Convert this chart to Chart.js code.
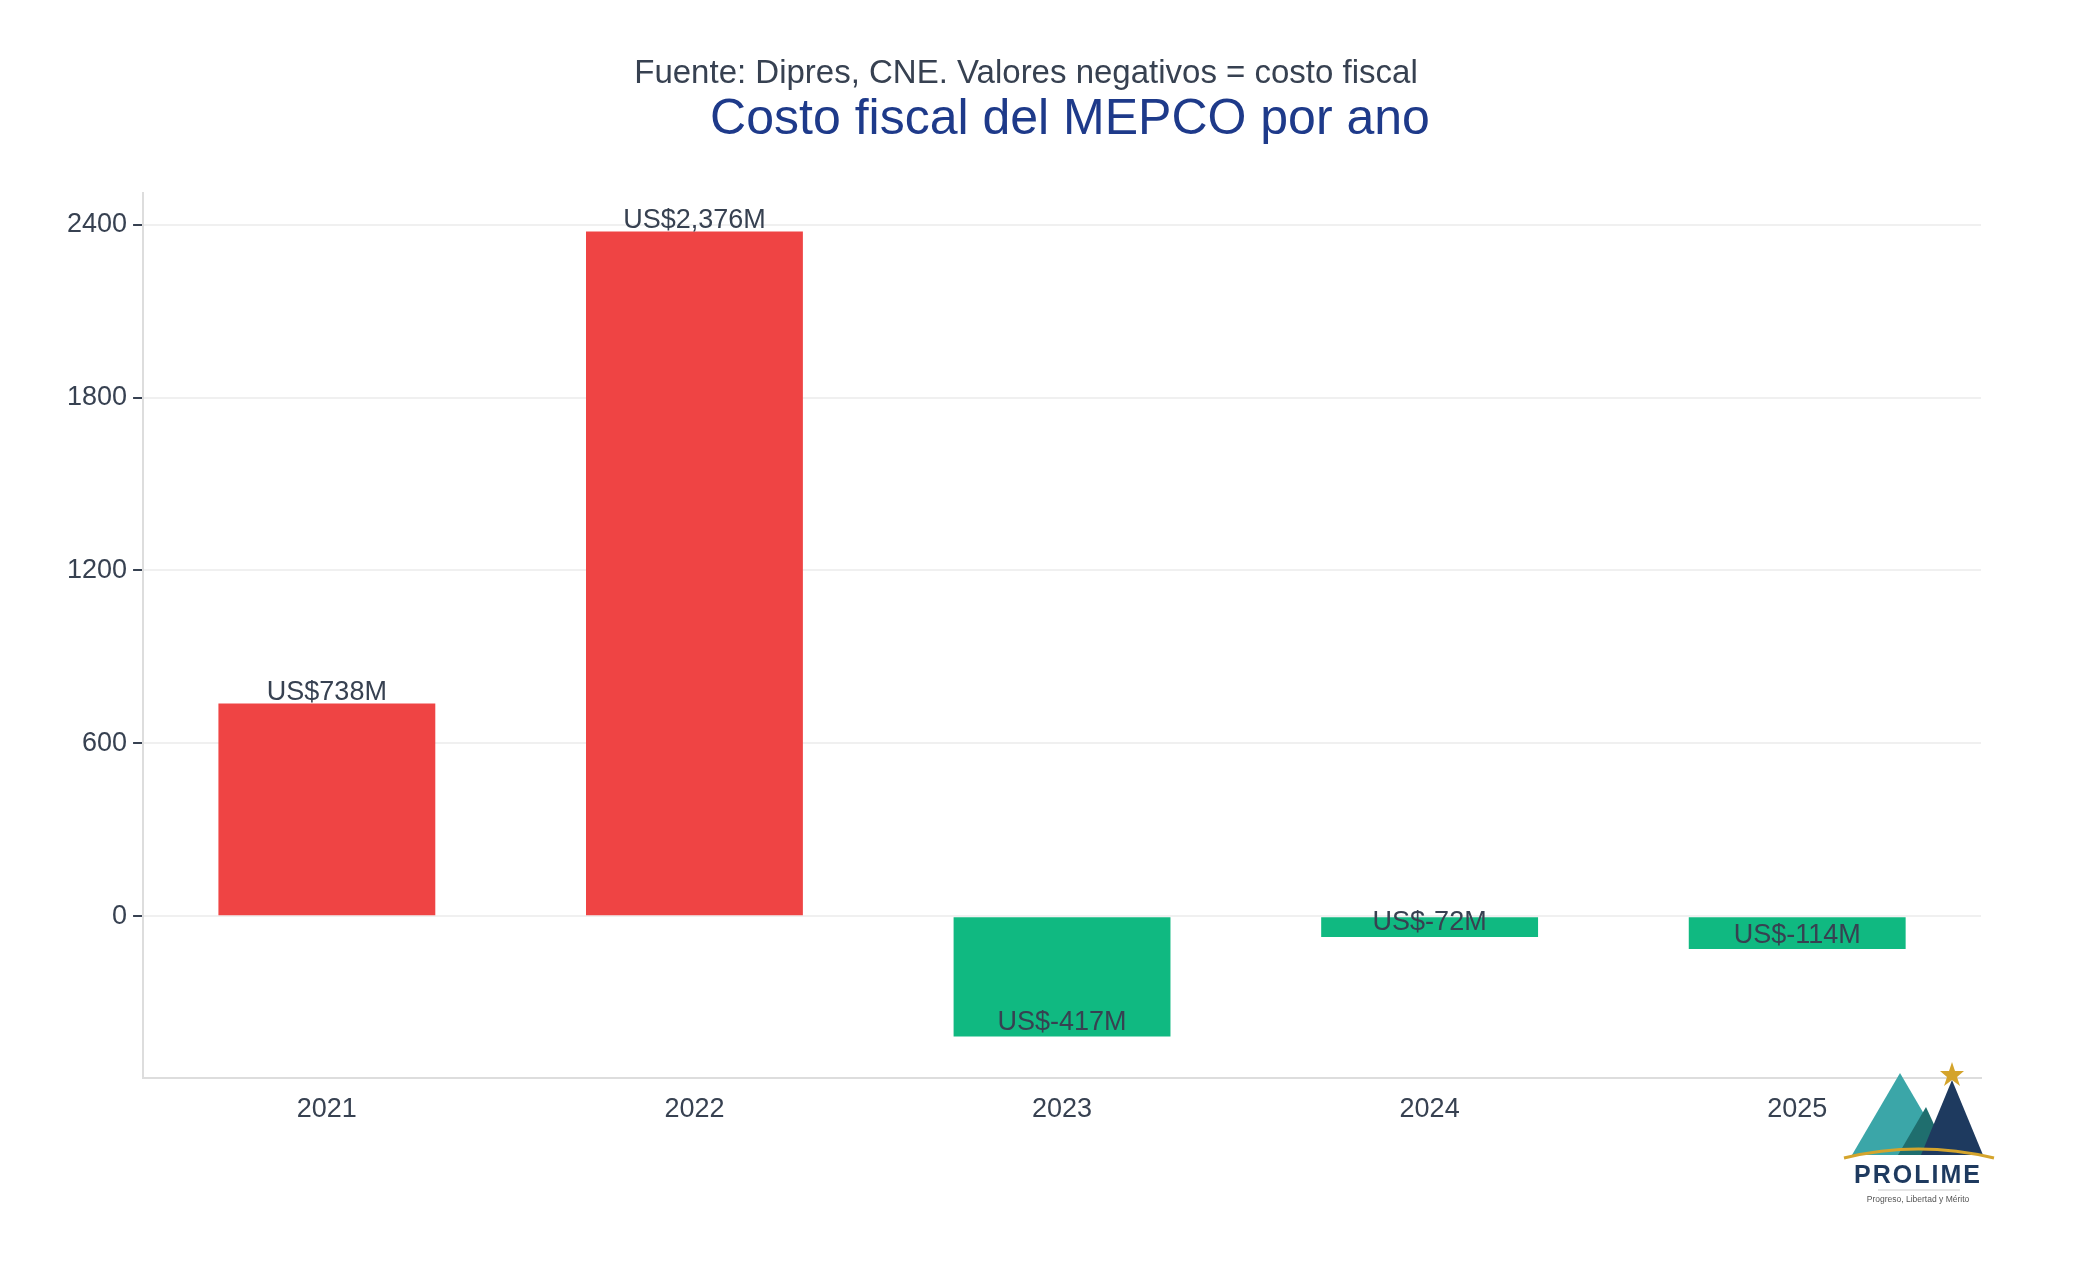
<!DOCTYPE html>
<html><head><meta charset="utf-8">
<script src="https://cdn.jsdelivr.net/npm/chart.js@4"></script>
<style>html,body{margin:0;padding:0;background:#fff;overflow:hidden}#wrap{position:relative;width:2081px;height:1284px}#logo{position:absolute;left:1836px;top:1050px}</style>
</head><body><div id="wrap"><canvas id="c" width="2081" height="1284"></canvas>
<svg id="logo" width="165" height="160" viewBox="0 0 165 160">
<polygon points="16,105 64,23 112,105" fill="#3BA6A8"/>
<polygon points="62,105 90,57 112,105" fill="#1F6E6E"/>
<polygon points="85,105 116,30 147,105" fill="#1E3A5F"/>
<polygon points="116,12 119,21 128,21 121,27 124,36 116,30 108,36 111,27 104,21 113,21" fill="#D4A42C"/>
<path d="M8,108 Q82,90 158,108" stroke="#D4A42C" stroke-width="3" fill="none"/>
<text x="82" y="133" text-anchor="middle" font-family="Liberation Sans, Arial" font-size="25" font-weight="bold" fill="#1E3A5F" letter-spacing="2">PROLIME</text>
<line x1="42" y1="140" x2="124" y2="140" stroke="#ddd" stroke-width="1.5"/>
<text x="82" y="152" text-anchor="middle" font-family="Liberation Sans, Arial" font-size="8.5" fill="#555">Progreso, Libertad y Mérito</text>
</svg></div>
<script>
const years = ["2021","2022","2023","2024","2025"];
const costs = [738, 2376, -417, -72, -114];
const yTicks = [0, 600, 1200, 1800, 2400];
const labels = ["US$738M","US$2,376M","US$-417M","US$-72M","US$-114M"];
const FONT = "'Liberation Sans', Arial, sans-serif";
const txt = {
  id:'txt',
  afterDatasetsDraw(ch){
    const ctx=ch.ctx; ctx.save();
    ctx.font="27px "+FONT; ctx.fillStyle="#374151"; ctx.textAlign="center";
    ch.getDatasetMeta(0).data.forEach((b,i)=>{
      if(costs[i]>=0){ctx.textBaseline="bottom"; ctx.fillText(labels[i], b.x, b.y+2);}
      else {ctx.textBaseline="middle"; ctx.fillText(labels[i], b.x, b.y-14);}
    });
    ctx.font="33px "+FONT; ctx.textBaseline="middle"; ctx.fillStyle="#374151";
    ctx.fillText("Fuente: Dipres, CNE. Valores negativos = costo fiscal", 1026, 74);
    ctx.font="50px "+FONT; ctx.fillStyle="#1E3A8A";
    ctx.fillText("Costo fiscal del MEPCO por ano", 1070, 120);
    ctx.restore();
  }
};
new Chart(document.getElementById('c'),{
  type:'bar',
  data:{labels:years,datasets:[{data:costs,backgroundColor:costs.map(v=>v>=0?'#EF4444':'#10B981'),barPercentage:0.59,categoryPercentage:1}]},
  options:{responsive:false,animation:false,devicePixelRatio:1,
    layout:{padding:{left:61,right:100,top:193,bottom:150}},
    plugins:{legend:{display:false},tooltip:{enabled:false}},
    scales:{
      x:{grid:{display:false,drawTicks:true},border:{color:'#ddd',width:2},
         ticks:{color:'#374151',font:{size:27,family:FONT},padding:8}},
      y:{min:-560,max:2510,afterBuildTicks(s){s.ticks=yTicks.map(v=>({value:v}));},
         grid:{color:'#f0f0f0',lineWidth:2,tickLength:10,tickColor:'#374151'},border:{color:'#ddd',width:2},
         ticks:{color:'#374151',font:{size:27,family:FONT},padding:6,callback:v=>String(v)}}
    }
  },
  plugins:[txt]
});
</script></body></html>
